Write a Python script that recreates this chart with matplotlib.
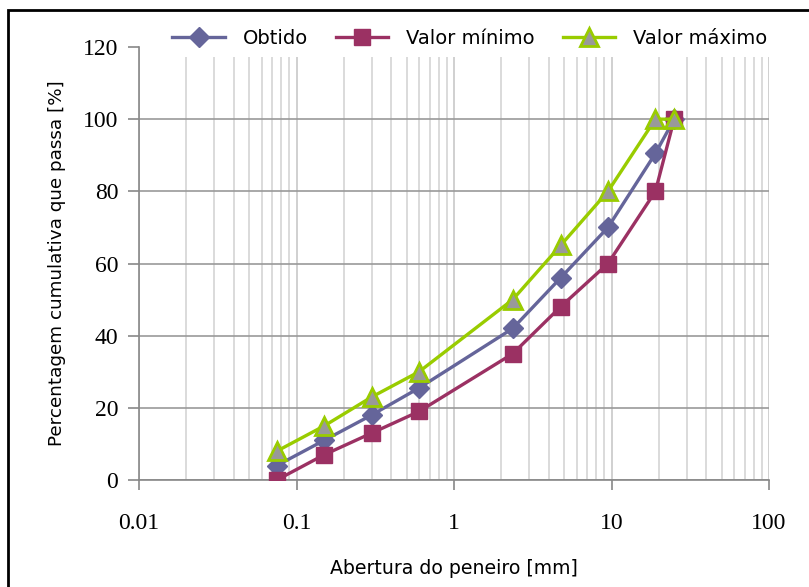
import numpy as np
import matplotlib.pyplot as plt
from matplotlib.patches import Rectangle
from matplotlib.ticker import LogLocator, NullFormatter, FixedLocator, FixedFormatter

# aberturas dos peneiros [mm]
peneiros = [0.075, 0.15, 0.3, 0.6, 2.36, 4.75, 9.5, 19, 25]
obtido = [4, 11, 18, 25.5, 42, 56, 70, 90.5, 100]
v_min = [0, 7, 13, 19, 35, 48, 60, 80, 100]
v_max = [8, 15, 23, 30, 50, 65, 80, 100, 100]
x_ticks = [0.01, 0.1, 1, 10, 100]
x_labels = ['0.01', '0.1', '1', '10', '100']
y_ticks = [0, 20, 40, 60, 80, 100, 120]

fig = plt.figure(figsize=(8.09, 5.87), dpi=100)
ax = fig.add_axes([139/809, 107/587, 630/809, 433/587])

ax.plot(peneiros, obtido, color='#65659A', lw=2.4, marker='D', ms=10,
        mfc='#65659A', mec='#65659A', label='Obtido', zorder=3)
ax.plot(peneiros, v_min, color='#9B3163', lw=2.4, marker='s', ms=12,
        mfc='#9B3163', mec='#9B3163', label='Valor mínimo', zorder=4)
ax.plot(peneiros, v_max, color='#99CC00', lw=2.4, marker='^', ms=13,
        mfc='#999999', mec='#99CC00', mew=2, label='Valor máximo', zorder=5)

ax.set_xscale('log')
ax.set_xlim(0.01, 100)
ax.set_ylim(0, 120)
ax.xaxis.set_major_locator(FixedLocator(x_ticks))
ax.xaxis.set_major_formatter(FixedFormatter(x_labels))
ax.xaxis.set_minor_locator(LogLocator(base=10, subs=np.arange(2, 10)))
ax.xaxis.set_minor_formatter(NullFormatter())
ax.set_yticks(y_ticks)

ax.grid(True, which='major', axis='x', color='#c8c8c8', lw=1.2)
ax.grid(True, which='minor', axis='x', color='#d4d4d4', lw=1.2)
ax.grid(True, which='major', axis='y', color='#999999', lw=1.2)
ax.set_axisbelow(True)
# sem linha de grelha no topo (120)
ax.get_ygridlines()[-1].set_visible(False)

for s in ['top', 'right']:
    ax.spines[s].set_visible(False)
for s in ['left', 'bottom']:
    ax.spines[s].set_color('#888888')
    ax.spines[s].set_linewidth(1.2)

ax.tick_params(axis='x', which='major', length=7, width=1.2, color='#888888',
               pad=17, labelsize=17)
ax.tick_params(axis='x', which='minor', length=0)
ax.tick_params(axis='y', length=8, width=1.2, color='#888888', pad=7, labelsize=17)
for lab in ax.get_xticklabels() + ax.get_yticklabels():
    lab.set_family('Liberation Serif')

ax.set_xlabel('Abertura do peneiro [mm]', fontsize=13.6, labelpad=18)
ax.set_ylabel('Percentagem cumulativa que passa [%]', fontsize=13.2, labelpad=12)

leg = ax.legend(loc='center', bbox_to_anchor=(0.525, (587 - 38 - 107) / 433), ncol=3,
                frameon=True, fontsize=14, handlelength=2.7, columnspacing=1.45,
                handletextpad=0.9, borderaxespad=0, borderpad=0.5)
leg.get_frame().set_edgecolor('none')
leg.get_frame().set_facecolor('white')
leg.get_frame().set_alpha(1)

# moldura da figura
fig.patches.append(Rectangle((8/809, -0.05), 1.1, 1 - 10/587 + 0.05,
                             transform=fig.transFigure, fill=False,
                             edgecolor='black', lw=2))

fig.savefig('out.png', dpi=100)
